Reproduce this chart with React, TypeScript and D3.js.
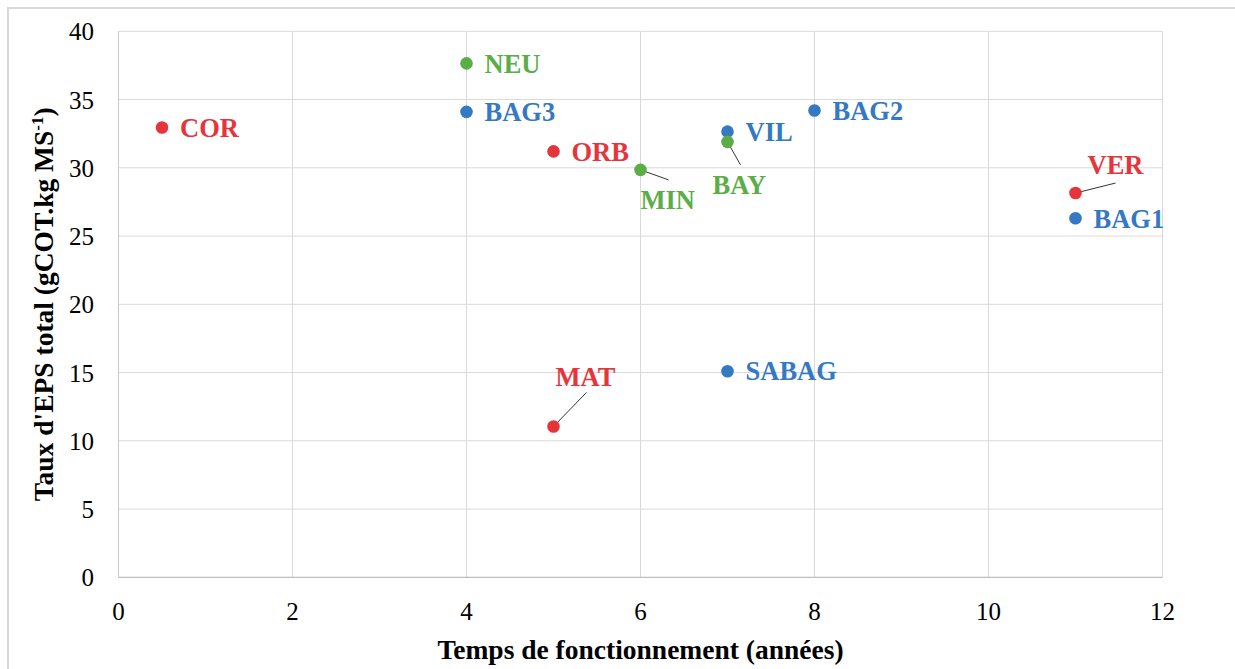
import React from "react";
import * as d3 from "d3";

const names = ["COR", "NEU", "BAG3", "ORB", "MIN", "VIL", "BAY", "BAG2", "VER", "BAG1", "SABAG", "MAT"];
const years = [0.5, 4, 4, 5, 6, 7, 7, 8, 11, 11, 7, 5];
const eps = [32.95, 37.65, 34.1, 31.2, 29.85, 32.65, 31.9, 34.2, 28.15, 26.3, 15.1, 11.05];
const groups = ["rouge", "vert", "bleu", "rouge", "vert", "bleu", "vert", "bleu", "rouge", "bleu", "bleu", "rouge"];

const xTicks = [0, 2, 4, 6, 8, 10, 12];
const yTicks = [0, 5, 10, 15, 20, 25, 30, 35, 40];

const xTitle = "Temps de fonctionnement (années)";
const yTitleMain = "Taux d'EPS total (gCOT.kg MS";
const yTitleSup = "-1";

const colors: Record<string, string> = {
  rouge: "#e6353a",
  vert: "#5aad47",
  bleu: "#3479c1",
};

// label placement (px offsets from the point); default is to the right
const labelLayout: Record<string, { dx: number; dy: number; leader?: [number, number] }> = {
  MIN: { dx: 0, dy: 30, leader: [28, 10] },
  BAY: { dx: -15, dy: 43, leader: [13, 23] },
  VER: { dx: 12, dy: -28, leader: [40, -10] },
  MAT: { dx: 2, dy: -50, leader: [33, -34] },
};

const W = 1235;
const H = 669;
const M = { left: 118.5, right: 1162.5, top: 31.3, bottom: 577.3 };
const serif = "'Liberation Serif', 'Times New Roman', Times, serif";

export default function App() {
  const x = d3.scaleLinear().domain([0, 12]).range([M.left, M.right]);
  const y = d3.scaleLinear().domain([0, 40]).range([M.bottom, M.top]);
  const pts = names.map((n, i) => ({ name: n, x: years[i], y: eps[i], g: groups[i] }));

  return (
    <svg
      width={W}
      height={H}
      style={{ position: "absolute", left: 0, top: 0, background: "#fff" }}
    >
      <rect x={8} y={8} width={1300} height={800} fill="#fff" stroke="#d9d9d9" strokeWidth={2} />
      {/* grid */}
      {yTicks.filter((t) => t > 0).map((t) => (
        <line key={"gy" + t} x1={M.left} x2={M.right} y1={y(t)} y2={y(t)} stroke="#d9d9d9" strokeWidth={1} />
      ))}
      {xTicks.filter((t) => t > 0).map((t) => (
        <line key={"gx" + t} x1={x(t)} x2={x(t)} y1={M.top} y2={M.bottom} stroke="#d9d9d9" strokeWidth={1} />
      ))}
      <line x1={M.left} x2={M.left} y1={M.top} y2={M.bottom} stroke="#c8c8c8" strokeWidth={1} />
      <line x1={M.left} x2={M.right} y1={M.bottom} y2={M.bottom} stroke="#bfbfbf" strokeWidth={1.3} />

      {/* tick labels */}
      {yTicks.map((t) => (
        <text key={"ty" + t} x={94} y={y(t)} dy="0.36em" textAnchor="end" fontFamily={serif} fontSize={25} fill="#000">
          {t}
        </text>
      ))}
      {xTicks.map((t) => (
        <text key={"tx" + t} x={x(t)} y={620} textAnchor="middle" fontFamily={serif} fontSize={25} fill="#000">
          {t}
        </text>
      ))}

      {/* titles */}
      <text x={(M.left + M.right) / 2} y={659} textAnchor="middle" fontFamily={serif} fontSize={27.5} fontWeight="bold" fill="#000">
        {xTitle}
      </text>
      <text
        transform={`translate(53, ${(M.top + M.bottom) / 2}) rotate(-90)`}
        textAnchor="middle"
        fontFamily={serif}
        fontSize={27.5}
        fontWeight="bold"
        fill="#000"
      >
        {yTitleMain}
        <tspan fontSize={17} dy={-10}>{yTitleSup}</tspan>
        <tspan dy={10}>)</tspan>
      </text>

      {/* leaders */}
      {pts.map((p) => {
        const l = labelLayout[p.name];
        if (!l || !l.leader) return null;
        const cx = x(p.x);
        const cy = y(p.y);
        return (
          <line key={"ld" + p.name} x1={cx} y1={cy} x2={cx + l.leader[0]} y2={cy + l.leader[1]} stroke="#333" strokeWidth={1} />
        );
      })}

      {/* points */}
      {pts.map((p) => (
        <circle key={"pt" + p.name} cx={x(p.x)} cy={y(p.y)} r={6.3} fill={colors[p.g]} />
      ))}

      {/* labels */}
      {pts.map((p) => {
        const l = labelLayout[p.name] || { dx: 18, dy: 0 };
        return (
          <text
            key={"lb" + p.name}
            x={x(p.x) + l.dx}
            y={y(p.y) + l.dy}
            dy="0.35em"
            fontFamily={serif}
            fontSize={26.5}
            fontWeight="bold"
            fill={colors[p.g]}
          >
            {p.name}
          </text>
        );
      })}
    </svg>
  );
}
